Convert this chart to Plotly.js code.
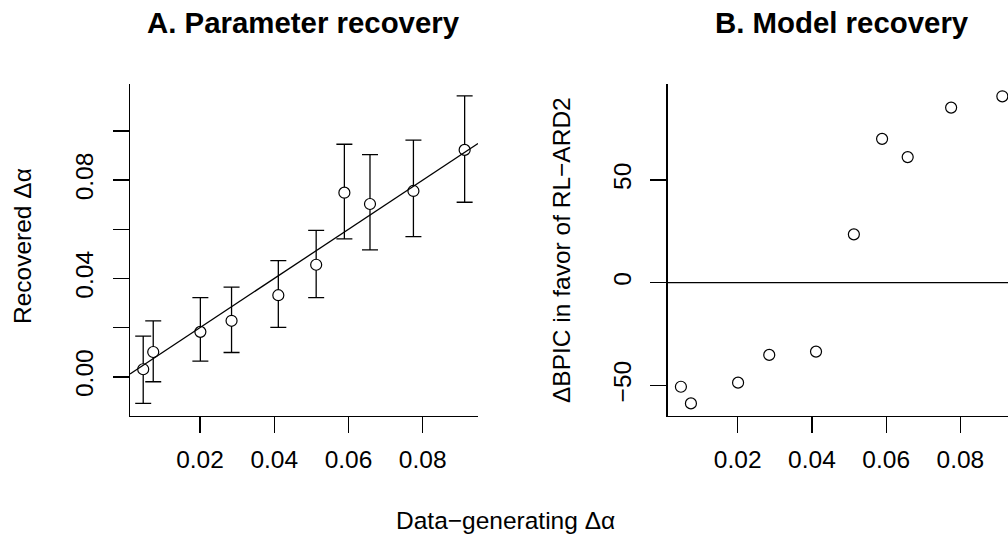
<!DOCTYPE html>
<html>
<head>
<meta charset="utf-8">
<script src="https://cdn.plot.ly/plotly-3.0.1.min.js"></script>
<style>
html, body { margin: 0; padding: 0; overflow: hidden; background: #fff; }
#chart { width: 1024px; height: 539px; }
</style>
</head>
<body>
<div id="chart"></div>
<script>
// ---- data ----
var generatingDelta = [0.0047, 0.0074, 0.0201, 0.0285, 0.0411, 0.0513, 0.0589, 0.0658, 0.0775, 0.0913];
var recoveredDelta  = [0.0031, 0.0101, 0.0183, 0.0228, 0.0332, 0.0456, 0.0749, 0.0703, 0.0756, 0.0923];
var recoveredUpper  = [0.0166, 0.0228, 0.0322, 0.0365, 0.0473, 0.0596, 0.0946, 0.0904, 0.0963, 0.1143];
var recoveredLower  = [-0.0108, -0.0020, 0.0064, 0.0099, 0.0201, 0.0322, 0.0561, 0.0516, 0.0570, 0.0710];
var deltaBPIC       = [-50.7, -58.8, -48.7, -35.2, -33.6, 23.5, 70.0, 61.1, 85.2, 90.7];

var xTickVals  = [0.02, 0.04, 0.06, 0.08];
var xTickText  = ['0.02', '0.04', '0.06', '0.08'];
var yATickVals = [0.00, 0.02, 0.04, 0.06, 0.08, 0.10];
var yATickText = ['0.00', '', '0.04', '', '0.08', ''];
var yBTickVals = [-50, 0, 50];
var yBTickText = ['\u221250', '0', '50'];

// ---- layout constants ----
var FONT = 'Liberation Sans, Arial, Helvetica, sans-serif';
var xRange  = [0.00114, 0.0949];
var yARange = [-0.0158, 0.1191];
var yBRange = [-64.8, 96.7];
var W = 1024, H = 539;
var yDomain = [(H - 415.7) / H, (H - 84) / H];

var errPlus = recoveredUpper.map(function (u, i) { return u - recoveredDelta[i]; });
var errMinus = recoveredLower.map(function (l, i) { return recoveredDelta[i] - l; });

var markerStyle = { symbol: 'circle', size: 11, color: '#ffffff', line: { color: '#000000', width: 1.2 } };

var traces = [
  {
    type: 'scatter', mode: 'markers', xaxis: 'x', yaxis: 'y',
    x: generatingDelta, y: recoveredDelta,
    marker: markerStyle,
    error_y: { type: 'data', symmetric: false, array: errPlus, arrayminus: errMinus,
               color: '#000000', thickness: 1.3, width: 8 },
    cliponaxis: false, hoverinfo: 'skip'
  },
  {
    type: 'scatter', mode: 'markers', xaxis: 'x2', yaxis: 'y2',
    x: generatingDelta, y: deltaBPIC,
    marker: markerStyle, cliponaxis: false, hoverinfo: 'skip'
  }
];

function axisBase() {
  return {
    showgrid: false, zeroline: false, showline: true, linecolor: '#000', linewidth: 1.3,
    ticks: 'outside', ticklen: 16, tickwidth: 1.3, tickcolor: '#000',
    tickfont: { family: FONT, size: 24.5, color: '#000' },
    tickmode: 'array', automargin: false, fixedrange: true
  };
}

var xa = axisBase(); Object.assign(xa, { domain: [130 / W, 478 / W], range: xRange, anchor: 'y', tickvals: xTickVals, ticktext: xTickText, ticklabelstandoff: 6 });
var xb = axisBase(); Object.assign(xb, { domain: [667.7 / W, 1015.7 / W], range: xRange, anchor: 'y2', tickvals: xTickVals, ticktext: xTickText, ticklabelstandoff: 6 });
var ya = axisBase(); Object.assign(ya, { domain: yDomain, range: yARange, anchor: 'x', tickvals: yATickVals, ticktext: yATickText, tickangle: -90, ticklabelstandoff: 10 });
var yb = axisBase(); Object.assign(yb, { domain: yDomain, range: yBRange, anchor: 'x2', tickvals: yBTickVals, ticktext: yBTickText, tickangle: -90, ticklabelstandoff: 10 });

var layout = {
  width: W, height: H,
  margin: { l: 0, r: 0, t: 0, b: 0, pad: 0 },
  paper_bgcolor: '#fff', plot_bgcolor: '#fff',
  showlegend: false,
  font: { family: FONT, color: '#000' },
  xaxis: xa, yaxis: ya, xaxis2: xb, yaxis2: yb,
  shapes: [
    { type: 'line', xref: 'x', yref: 'y', x0: xRange[0], y0: xRange[0], x1: xRange[1], y1: xRange[1],
      line: { color: '#000', width: 1.3 } },
    { type: 'line', xref: 'x2 domain', yref: 'y2', x0: 0, x1: 1, y0: 0, y1: 0,
      line: { color: '#000', width: 1.3 } }
  ],
  annotations: [
    { text: '<b>A. Parameter recovery</b>', xref: 'paper', yref: 'paper', x: 303.4 / W, y: (H - 23) / H,
      xanchor: 'center', yanchor: 'middle', showarrow: false, font: { family: FONT, size: 29.4, color: '#000' } },
    { text: '<b>B. Model recovery</b>', xref: 'paper', yref: 'paper', x: 841.5 / W, y: (H - 23) / H,
      xanchor: 'center', yanchor: 'middle', showarrow: false, font: { family: FONT, size: 29.4, color: '#000' } },
    { text: 'Recovered \u0394\u03b1', xref: 'paper', yref: 'paper', x: 23 / W, y: (H - 246) / H,
      textangle: -90, xanchor: 'center', yanchor: 'middle', showarrow: false, font: { family: FONT, size: 24.5, color: '#000' } },
    { text: '\u0394BPIC in favor of RL\u2212ARD2', xref: 'paper', yref: 'paper', x: 561 / W, y: (H - 250) / H,
      textangle: -90, xanchor: 'center', yanchor: 'middle', showarrow: false, font: { family: FONT, size: 24.5, color: '#000' } },
    { text: 'Data\u2212generating \u0394\u03b1', xref: 'paper', yref: 'paper', x: 505 / W, y: (H - 520) / H,
      xanchor: 'center', yanchor: 'middle', showarrow: false, font: { family: FONT, size: 24.5, color: '#000' } }
  ]
};

Plotly.newPlot('chart', traces, layout, { staticPlot: true, displayModeBar: false });
</script>
</body>
</html>
